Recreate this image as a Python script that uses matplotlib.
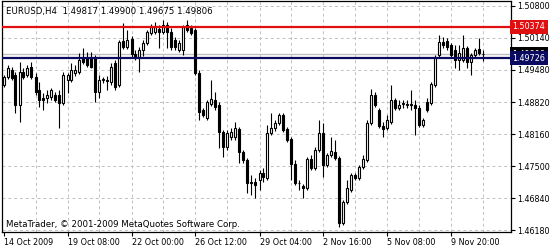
import numpy as np
import matplotlib.pyplot as plt
from matplotlib.transforms import blended_transform_factory

# EURUSD H4 candles (oldest first)
opens = [1.4917, 1.4934, 1.4948, 1.4938, 1.4876, 1.4944, 1.4938, 1.4954, 1.4934, 1.4907,
         1.4890, 1.4890, 1.4892, 1.4896, 1.4896, 1.4880, 1.4927, 1.4927, 1.4942, 1.4944,
         1.4973, 1.4973, 1.4975, 1.4975, 1.4903, 1.4927, 1.4927, 1.4923, 1.4962, 1.4917,
         1.5008, 1.4995, 1.5012, 1.4981, 1.4973, 1.4989, 1.5004, 1.5024, 1.5026, 1.5033,
         1.5026, 1.5041, 1.5026, 1.5010, 1.4989, 1.4989, 1.5041, 1.5035, 1.5031, 1.4942,
         1.4866, 1.4849, 1.4878, 1.4886, 1.4876, 1.4820, 1.4789, 1.4810, 1.4810, 1.4826,
         1.4779, 1.4762, 1.4715, 1.4717, 1.4721, 1.4736, 1.4725, 1.4818, 1.4828, 1.4839,
         1.4855, 1.4826, 1.4806, 1.4754, 1.4715, 1.4709, 1.4705, 1.4764, 1.4746, 1.4783,
         1.4818, 1.4752, 1.4773, 1.4779, 1.4767, 1.4633, 1.4676, 1.4701, 1.4731, 1.4725,
         1.4748, 1.4762, 1.4839, 1.4896, 1.4866, 1.4833, 1.4828, 1.4841, 1.4886, 1.4870,
         1.4878, 1.4876, 1.4876, 1.4876, 1.4870, 1.4835, 1.4882, 1.4880, 1.4917, 1.4979,
         1.5006, 1.5008, 1.5000, 1.4989, 1.4969, 1.4969, 1.4993, 1.4965, 1.4979, 1.4991,
         1.49817]
highs = [1.4938, 1.4958, 1.4954, 1.4944, 1.4965, 1.4952, 1.4958, 1.4965, 1.4942, 1.4923,
         1.4901, 1.4907, 1.4911, 1.4903, 1.4907, 1.4944, 1.4942, 1.4962, 1.4958, 1.4983,
         1.4993, 1.4985, 1.4985, 1.4979, 1.4938, 1.4934, 1.4936, 1.4962, 1.4969, 1.5010,
         1.5045, 1.5030, 1.5018, 1.4989, 1.4995, 1.5010, 1.5030, 1.5043, 1.5047, 1.5041,
         1.5051, 1.5047, 1.5035, 1.5016, 1.5010, 1.5041, 1.5051, 1.5041, 1.5035, 1.4948,
         1.4870, 1.4886, 1.4927, 1.4903, 1.4882, 1.4824, 1.4824, 1.4828, 1.4841, 1.4830,
         1.4783, 1.4767, 1.4731, 1.4725, 1.4742, 1.4746, 1.4835, 1.4859, 1.4845, 1.4859,
         1.4859, 1.4830, 1.4810, 1.4762, 1.4721, 1.4713, 1.4769, 1.4773, 1.4789, 1.4845,
         1.4839, 1.4777, 1.4810, 1.4804, 1.4771, 1.4680, 1.4721, 1.4736, 1.4736, 1.4752,
         1.4773, 1.4845, 1.4909, 1.4903, 1.4870, 1.4841, 1.4855, 1.4917, 1.4890, 1.4886,
         1.4886, 1.4886, 1.4907, 1.4886, 1.4876, 1.4849, 1.4890, 1.4923, 1.4979, 1.5020,
         1.5016, 1.5014, 1.5004, 1.5000, 1.5000, 1.5020, 1.4998, 1.4983, 1.4993, 1.5014,
         1.49900]
lows = [1.4913, 1.4929, 1.4927, 1.4859, 1.4841, 1.4929, 1.4934, 1.4929, 1.4896, 1.4872,
        1.4866, 1.4880, 1.4886, 1.4882, 1.4828, 1.4876, 1.4901, 1.4923, 1.4936, 1.4940,
        1.4960, 1.4954, 1.4952, 1.4882, 1.4890, 1.4921, 1.4907, 1.4917, 1.4907, 1.4913,
        1.4991, 1.4991, 1.4975, 1.4969, 1.4944, 1.4977, 1.5000, 1.5020, 1.5022, 1.4993,
        1.5022, 1.4993, 1.4989, 1.4989, 1.4985, 1.4979, 1.5026, 1.5020, 1.4938, 1.4845,
        1.4851, 1.4845, 1.4874, 1.4866, 1.4787, 1.4769, 1.4783, 1.4804, 1.4804, 1.4756,
        1.4756, 1.4694, 1.4690, 1.4684, 1.4701, 1.4717, 1.4721, 1.4814, 1.4822, 1.4835,
        1.4820, 1.4800, 1.4721, 1.4711, 1.4701, 1.4684, 1.4701, 1.4742, 1.4742, 1.4779,
        1.4727, 1.4748, 1.4769, 1.4762, 1.4624, 1.4628, 1.4672, 1.4696, 1.4721, 1.4721,
        1.4744, 1.4758, 1.4835, 1.4872, 1.4828, 1.4810, 1.4824, 1.4837, 1.4866, 1.4866,
        1.4870, 1.4870, 1.4866, 1.4814, 1.4830, 1.4830, 1.4861, 1.4876, 1.4913, 1.4975,
        1.4993, 1.4989, 1.4973, 1.4952, 1.4948, 1.4965, 1.4952, 1.4938, 1.4975, 1.4979,
        1.49675]
closes = [1.4934, 1.4952, 1.4932, 1.4876, 1.4944, 1.4934, 1.4952, 1.4934, 1.4903, 1.4886,
          1.4886, 1.4896, 1.4907, 1.4886, 1.4880, 1.4938, 1.4938, 1.4948, 1.4948, 1.4969,
          1.4965, 1.4958, 1.4954, 1.4903, 1.4927, 1.4929, 1.4925, 1.4954, 1.4913, 1.5006,
          1.4995, 1.5010, 1.4981, 1.4973, 1.4989, 1.5004, 1.5026, 1.5039, 1.5037, 1.5026,
          1.5041, 1.5026, 1.4995, 1.4995, 1.5004, 1.5037, 1.5031, 1.5024, 1.4942, 1.4861,
          1.4855, 1.4882, 1.4888, 1.4872, 1.4820, 1.4789, 1.4818, 1.4820, 1.4828, 1.4779,
          1.4762, 1.4715, 1.4716, 1.4711, 1.4736, 1.4727, 1.4818, 1.4828, 1.4839, 1.4855,
          1.4824, 1.4804, 1.4754, 1.4715, 1.4714, 1.4705, 1.4764, 1.4746, 1.4783, 1.4818,
          1.4752, 1.4773, 1.4781, 1.4767, 1.4633, 1.4676, 1.4705, 1.4731, 1.4725, 1.4748,
          1.4764, 1.4839, 1.4896, 1.4876, 1.4833, 1.4826, 1.4845, 1.4886, 1.4870, 1.4876,
          1.4879, 1.4877, 1.4877, 1.4870, 1.4835, 1.4845, 1.4866, 1.4919, 1.4975, 1.5006,
          1.5000, 1.4995, 1.4979, 1.4969, 1.4983, 1.4993, 1.4965, 1.4979, 1.4989, 1.4983,
          1.49806]

price_ticks = [1.50800, 1.50140, 1.49480, 1.48820, 1.48160, 1.47500, 1.46840, 1.46180]
time_bars = [0, 16, 32, 48, 64, 80, 96, 112]
time_labels = ["14 Oct 2009", "19 Oct 08:00", "22 Oct 00:00", "26 Oct 12:00",
               "29 Oct 04:00", "2 Nov 16:00", "5 Nov 08:00", "9 Nov 20:00"]
red_level = 1.50374
blue_level = 1.49726
bid = 1.49806
header = "EURUSD,H4  1.49817 1.49900 1.49675 1.49806"
footer = "MetaTrader, \u00a9 2001-2009 MetaQuotes Software Corp."

plt.rcParams["font.family"] = "DejaVu Sans"
fig = plt.figure(figsize=(5.5, 2.5), dpi=100)
ax = fig.add_axes([2 / 550, 18 / 250, 509 / 550, 231 / 250])

x = np.arange(len(closes))
o = np.array(opens)
c = np.array(closes)
up = c >= o

# grid
for p in price_ticks:
    ax.axhline(p, color="#c0c0c0", lw=0.7, ls=(0, (3, 3)), zorder=0)
for b in range(8, 128, 8):
    ax.axvline(b, color="#c0c0c0", lw=0.7, ls=(0, (3, 3)), zorder=0)

# candles
ax.vlines(x, lows, highs, color="black", lw=0.8, zorder=2)
ax.bar(x[up], c[up] - o[up], bottom=o[up], width=0.5, facecolor="white",
       edgecolor="black", linewidth=0.8, zorder=3)
ax.bar(x[~up], c[~up] - o[~up], bottom=o[~up], width=0.5, facecolor="black",
       edgecolor="black", linewidth=0.8, zorder=3)

# levels
ax.axhline(bid, color="#c0c0c0", lw=1.0, zorder=1)
ax.axhline(red_level, color="#e01010", lw=1.6, zorder=4)
ax.axhline(blue_level, color="#0a0a60", lw=1.6, zorder=4)

ax.set_xlim(-0.375, 126.875)
ax.set_ylim(1.46139, 1.50903)

ax.yaxis.tick_right()
ax.set_yticks(price_ticks)
ax.set_yticklabels([f"{p:.5f}" for p in price_ticks])
ax.set_xticks(time_bars)
ax.set_xticklabels(time_labels, ha="left")
ax.tick_params(axis="both", direction="out", length=3, width=0.8,
               labelsize=5.8, pad=1.2, colors="black")
for s in ax.spines.values():
    s.set_linewidth(0.9)
    s.set_color("black")

# level labels on price scale (bid label sits under the blue one)
tr = blended_transform_factory(ax.transAxes, ax.transData)
for lvl, col in [(bid, "black"), (red_level, "#e01010"), (blue_level, "#0a0a60")]:
    ax.text(1.003, lvl, f"{lvl:.5f}", transform=tr, ha="left", va="center",
            fontsize=5.8, color="white", clip_on=False, zorder=6,
            bbox=dict(boxstyle="square,pad=0.3", fc=col, ec="none"))

ax.text(0.008, 0.975, header, transform=ax.transAxes, ha="left", va="top",
        fontsize=6.2, zorder=5)
ax.text(0.008, 0.015, footer, transform=ax.transAxes, ha="left", va="bottom",
        fontsize=6.2, zorder=5)

fig.savefig("out.png", dpi=100, facecolor="white")
